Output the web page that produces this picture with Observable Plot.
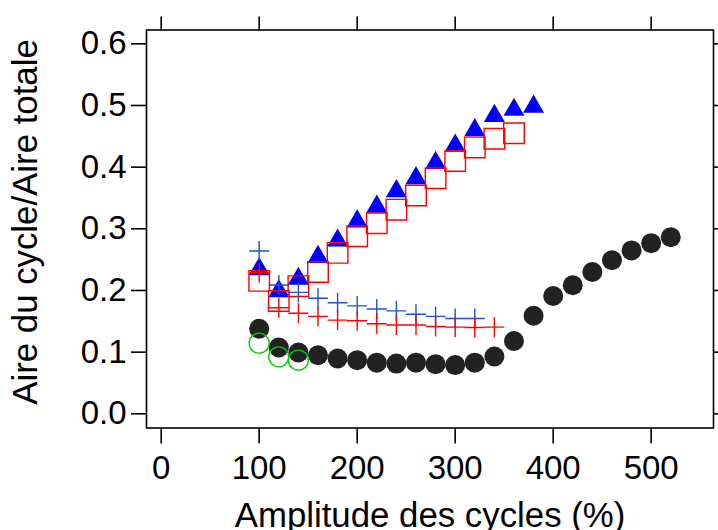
<!DOCTYPE html>
<html><head><meta charset="utf-8">
<script src="https://cdn.jsdelivr.net/npm/d3@7"></script>
<script src="https://cdn.jsdelivr.net/npm/@observablehq/plot@0.6"></script>
<style>body{margin:0;background:#fff}</style>
</head><body><div id="chart"></div>
<script>
const xTicks = [0, 100, 200, 300, 400, 500];
const yTicks = [0, 0.1, 0.2, 0.3, 0.4, 0.5, 0.6];
const xLabel = "Amplitude des cycles (%)";
const yLabel = "Aire du cycle/Aire totale";

const blackX = [100,120,140,160,180,200,220,240,260,280,300,320,340,360,380,400,420,440,460,480,500,520];
const blackY = [0.138,0.1075,0.0994,0.095,0.0897,0.087,0.083,0.0815,0.083,0.0805,0.079,0.083,0.093,0.118,0.159,0.191,0.2085,0.230,0.249,0.265,0.2767,0.2864];

const greenX = [100,120,140];
const greenY = [0.1146,0.0924,0.087];

const squareX = [100,120,140,160,180,200,220,240,260,280,300,320,340,360];
const squareY = [0.2156,0.183,0.207,0.230,0.261,0.288,0.309,0.331,0.354,0.382,0.410,0.432,0.446,0.455];

const triangleX = [100,120,140,160,180,200,220,240,260,280,300,320,340,360,380];
const triangleY = [0.2345,0.199,0.219,0.2545,0.281,0.312,0.336,0.361,0.382,0.407,0.435,0.460,0.483,0.493,0.498];

const blueCrossX = [100,120,140,160,180,200,220,240,260,280,300,320];
const blueCrossY = [0.264,0.209,0.197,0.1875,0.180,0.175,0.170,0.167,0.1615,0.158,0.1545,0.1545];

const redCrossX = [100,120,140,160,180,200,220,240,260,280,300,320,340];
const redCrossY = [0.229,0.172,0.163,0.158,0.152,0.151,0.146,0.144,0.144,0.1415,0.1405,0.140,0.1405];

const zip = (xs, ys) => xs.map((x, i) => ({x, y: ys[i]}));

const plusSymbol = {
  draw(ctx, size) {
    const r = Math.sqrt(size / Math.PI);
    ctx.moveTo(-r, 0); ctx.lineTo(r, 0);
    ctx.moveTo(0, -r); ctx.lineTo(0, r);
  }
};

const chart = Plot.plot({
  width: 718,
  height: 530,
  marginLeft: 146,
  marginRight: 5,
  marginTop: 29.5,
  marginBottom: 102.5,
  style: {fontFamily: "'Liberation Sans', Arial, sans-serif", fontSize: "33px", color: "black", background: "white"},
  x: {domain: [-15, 563.6]},
  y: {domain: [-0.023, 0.6224]},
  marks: [
    Plot.axisX(xTicks, {anchor: "bottom", tickSize: 16, tickPadding: 12, strokeWidth: 1.6, tickFormat: d => String(d), label: null, fontSize: 33}),
    Plot.axisX(xTicks, {anchor: "top", tickSize: 14, strokeWidth: 1.6, tickFormat: () => "", label: null}),
    Plot.axisY(yTicks, {anchor: "left", tickSize: 15, tickPadding: 5, strokeWidth: 1.6, tickFormat: d => d.toFixed(1), label: null, fontSize: 33}),
    Plot.axisY(yTicks, {anchor: "right", tickSize: 6, strokeWidth: 1.6, tickFormat: () => "", label: null}),
    Plot.frame({stroke: "black", strokeWidth: 1.6}),
    Plot.text([xLabel], {frameAnchor: "bottom", textAnchor: "middle", lineAnchor: "middle", dy: 88, fontSize: 34.8, fill: "black"}),
    Plot.text([yLabel], {frameAnchor: "left", textAnchor: "middle", rotate: -90, lineAnchor: "top", dx: -134, dy: -7, fontSize: 34.8, fill: "black"}),
    Plot.dot(zip(blackX, blackY), {x: "x", y: "y", r: 10, fill: "#222222", stroke: "none"}),
    Plot.dot(zip(greenX, greenY), {x: "x", y: "y", r: 10, fill: "none", stroke: "#00cc00", strokeWidth: 1.4}),
    Plot.dot(zip(triangleX, triangleY), {x: "x", y: "y", r: 7.8, symbol: "triangle", fill: "#0000ff", stroke: "none"}),
    Plot.dot(zip(squareX, squareY), {x: "x", y: "y", r: 11.6, symbol: "square", fill: "none", stroke: "#ff0000", strokeWidth: 1.4}),
    Plot.dot(zip(blueCrossX, blueCrossY), {x: "x", y: "y", r: 10, symbol: plusSymbol, fill: "none", stroke: "#1e4fd6", strokeWidth: 1.4}),
    Plot.dot(zip(redCrossX, redCrossY), {x: "x", y: "y", r: 10, symbol: plusSymbol, fill: "none", stroke: "#ff0000", strokeWidth: 1.4})
  ]
});
document.getElementById("chart").appendChild(chart);
</script>
</body></html>
